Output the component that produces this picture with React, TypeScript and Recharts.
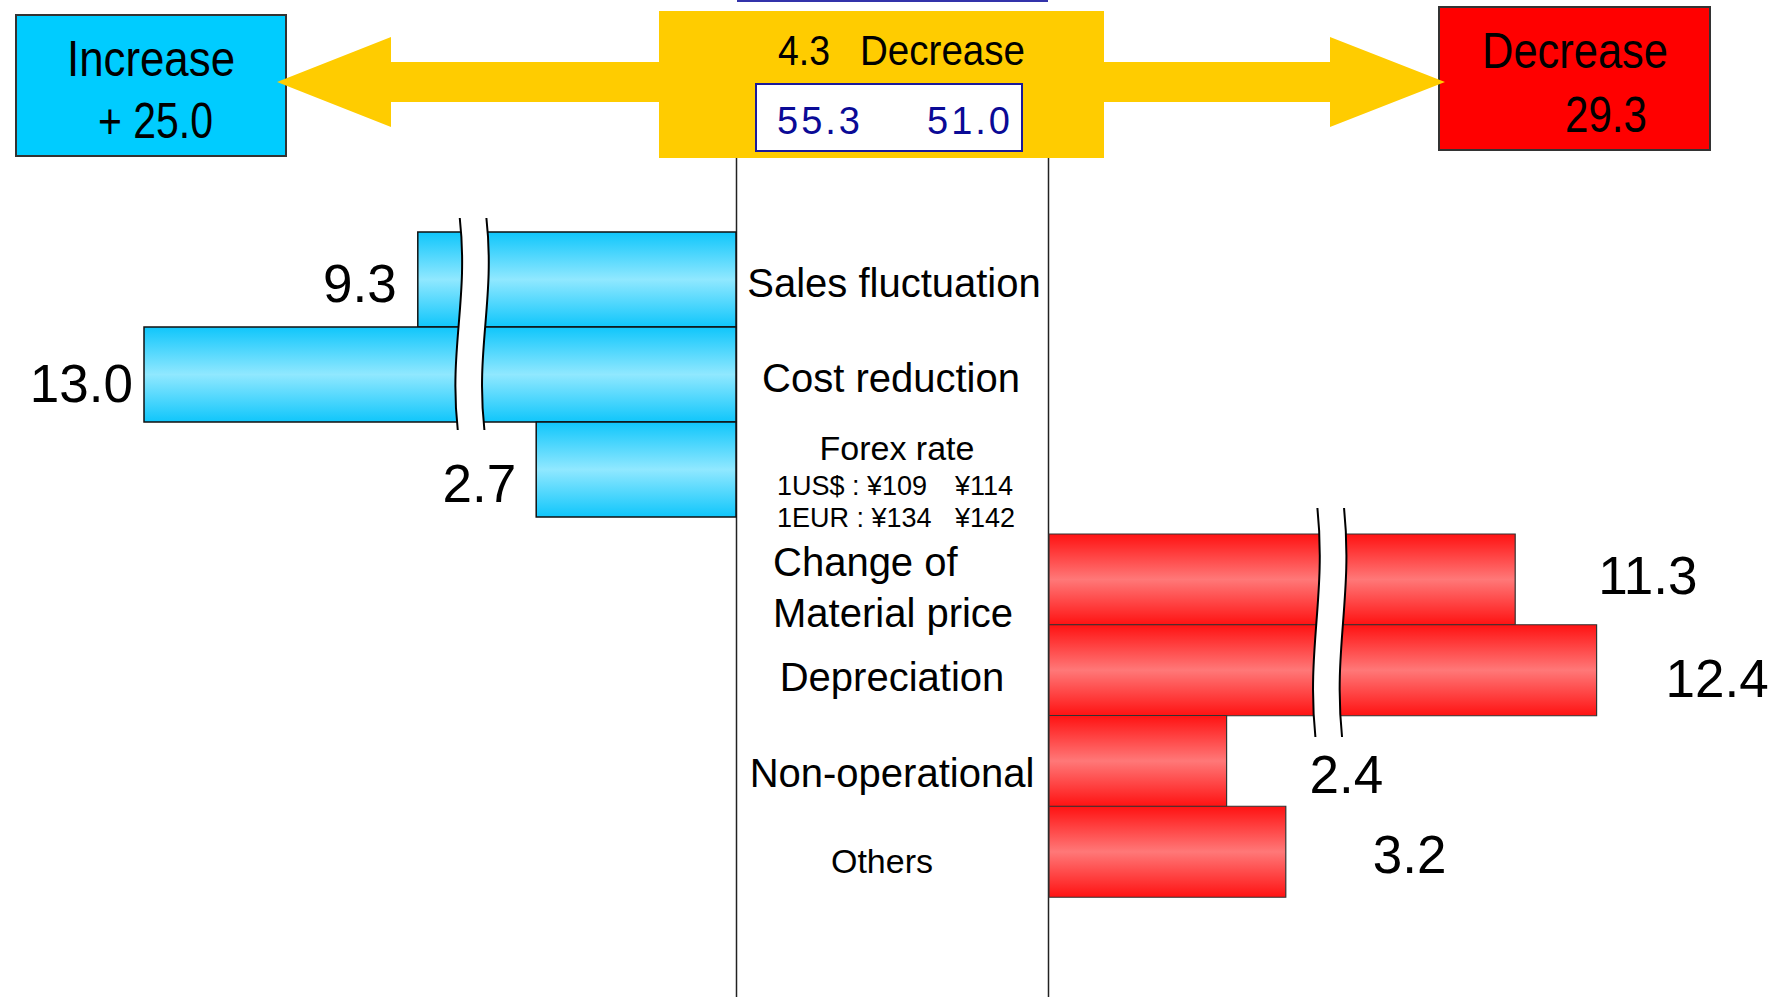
import { BarChart, Bar, XAxis, YAxis, LabelList, ReferenceArea } from 'recharts'

const increaseItems = ['Sales fluctuation', 'Cost reduction', 'Forex rate']
const increaseValues = [9.3, 13.0, 2.7]
const decreaseItems = ['Change of Material price', 'Depreciation', 'Non-operational', 'Others']
const decreaseValues = [11.3, 12.4, 2.4, 3.2]

const increaseTotal = 25.0
const decreaseTotal = 29.3
const netChange = 4.3
const profitPrev = 55.3
const profitCurr = 51.0
const usdRate = [109, 114]
const eurRate = [134, 142]

// long bars are drawn with a wavy cut that hides CUT units
const CUT_ABOVE = 8
const CUT = 5
const blueBreakAt = 3.58
const redBreakAt = 3.78

const W = 1778
const H = 997
const FONT = '"Liberation Sans", Arial, sans-serif'

const plotted = (v: number) => (v > CUT_ABOVE ? v - CUT : v)

const increaseData = increaseItems.map((name, i) => ({ name, value: increaseValues[i], bar: plotted(increaseValues[i]) }))
const decreaseData = decreaseItems.map((name, i) => ({ name, value: decreaseValues[i], bar: plotted(decreaseValues[i]) }))

const LEFT_LABEL_OFFSET = [[-21, 22], [-11, 27], [-20, 32]]
const RIGHT_LABEL_OFFSET = [[83, 14], [69, 27], [83, 32], [87, 21]]

function renderLeftLabel(props: any) {
  const { x, y, width, height, value, index } = props
  const left = Math.min(x, x + width)
  const [dx, dy] = LEFT_LABEL_OFFSET[index] || [-15, 25]
  return (
    <text x={left + dx} y={y + height / 2 + dy} textAnchor="end" fontSize={53} fontFamily={FONT} fill="#000">
      {Number(value).toFixed(1)}
    </text>
  )
}

function renderRightLabel(props: any) {
  const { x, y, width, height, value, index } = props
  const right = Math.max(x, x + width)
  const [dx, dy] = RIGHT_LABEL_OFFSET[index] || [80, 25]
  return (
    <text x={right + dx} y={y + height / 2 + dy} textAnchor="start" fontSize={53} fontFamily={FONT} fill="#000">
      {Number(value).toFixed(1)}
    </text>
  )
}

function LeftTick(props: any) {
  const { x, y, payload, index } = props
  const name = payload.value
  if (index === 2) {
    return (
      <g fontFamily={FONT} fill="#000">
        <text x={x + 161} y={y - 10} textAnchor="middle" fontSize={34}>{name}</text>
        <text x={x + 41} y={y + 25} fontSize={27}>{`1US$ : ¥${usdRate[0]}`}</text>
        <text x={x + 219} y={y + 25} fontSize={27}>{`¥${usdRate[1]}`}</text>
        <text x={x + 41} y={y + 57} fontSize={27}>{`1EUR : ¥${eurRate[0]}`}</text>
        <text x={x + 219} y={y + 57} fontSize={27}>{`¥${eurRate[1]}`}</text>
      </g>
    )
  }
  return (
    <text x={x + 158 - index * 3} y={y + 17} textAnchor="middle" fontSize={40} fontFamily={FONT} fill="#000">
      {name}
    </text>
  )
}

function RightTick(props: any) {
  const { x, y, payload, index } = props
  const name: string = payload.value
  if (index === 0) {
    const parts = name.split(' of ')
    return (
      <g fontFamily={FONT} fill="#000" fontSize={40}>
        <text x={x - 276} y={y - 3}>{parts[0] + ' of'}</text>
        <text x={x - 276} y={y + 48}>{parts[1]}</text>
      </g>
    )
  }
  const last = index === 3
  return (
    <text x={x - (last ? 167 : 157)} y={y + (index === 2 ? 26 : 21)} textAnchor="middle" fontSize={last ? 34 : 40} fontFamily={FONT} fill="#000">
      {name}
    </text>
  )
}

const breakShape = (top: number, len: number) => (props: any) => {
  const { x, y, width } = props
  const y0 = y + top
  const y1 = y0 + len
  const l = x
  const r = x + width
  const a = y0 + len * 0.38
  const b = y0 + len * 0.62
  return (
    <g>
      <path
        d={`M ${l + 2} ${y0} C ${l + 11} ${a}, ${l - 9} ${b}, ${l} ${y1} L ${r} ${y1} C ${r - 9} ${b}, ${r + 11} ${a}, ${r + 2} ${y0} Z`}
        fill="#fff"
        stroke="none"
      />
      <path d={`M ${l + 2} ${y0} C ${l + 11} ${a}, ${l - 9} ${b}, ${l} ${y1}`} fill="none" stroke="#000" strokeWidth={2} />
      <path d={`M ${r + 2} ${y0} C ${r + 11} ${a}, ${r - 9} ${b}, ${r} ${y1}`} fill="none" stroke="#000" strokeWidth={2} />
    </g>
  )
}

function Decorations() {
  return (
    <svg width={W} height={H} style={{ position: 'absolute', left: 0, top: 0 }} fontFamily={FONT}>
      <line x1={737} y1={1} x2={1048} y2={1} stroke="#3333aa" strokeWidth={2} />
      <line x1={736.5} y1={158} x2={736.5} y2={H} stroke="#222" strokeWidth={1.5} />
      <line x1={1048.5} y1={158} x2={1048.5} y2={H} stroke="#222" strokeWidth={1.5} />

      <rect x={16} y={15} width={270} height={141} fill="#00ccff" stroke="#333" strokeWidth={2} />
      <text x={67} y={76} fontSize={50} textLength={168} lengthAdjust="spacingAndGlyphs">Increase</text>
      <text x={98} y={138} fontSize={50} textLength={115} lengthAdjust="spacingAndGlyphs">{`+ ${increaseTotal.toFixed(1)}`}</text>

      <rect x={1439} y={7} width={271} height={143} fill="#ff0000" stroke="#333" strokeWidth={2} />
      <text x={1482} y={68} fontSize={50} textLength={186} lengthAdjust="spacingAndGlyphs">Decrease</text>
      <text x={1565} y={132} fontSize={50} textLength={82} lengthAdjust="spacingAndGlyphs">{decreaseTotal.toFixed(1)}</text>

      <polygon
        points="277,82 391,37 391,62 1330,62 1330,37 1445,82 1330,127 1330,102 391,102 391,127"
        fill="#ffcc00"
      />
      <rect x={659} y={11} width={445} height={147} fill="#ffcc00" />
      <text x={778} y={65} fontSize={42} textLength={52} lengthAdjust="spacingAndGlyphs">{netChange.toFixed(1)}</text>
      <text x={860} y={65} fontSize={42} textLength={165} lengthAdjust="spacingAndGlyphs">Decrease</text>
      <rect x={756} y={84} width={266} height={67} fill="#fff" stroke="#1a1a9a" strokeWidth={2} />
      <text x={777} y={134} fontSize={38} fill="#0a0a96" letterSpacing={3}>{profitPrev.toFixed(1)}</text>
      <text x={927} y={134} fontSize={38} fill="#0a0a96" letterSpacing={3}>{profitCurr.toFixed(1)}</text>
    </svg>
  )
}

export default function App() {
  return (
    <div style={{ position: 'absolute', left: 0, top: 0, width: W, height: H, background: '#fff', overflow: 'hidden' }}>
      <Decorations />

      <div style={{ position: 'absolute', left: 0, top: 0 }}>
        <BarChart
          width={W}
          height={H}
          data={increaseData}
          layout="vertical"
          margin={{ top: 232, bottom: H - 517, left: 144, right: W - 1049 }}
          barCategoryGap={0}
        >
          <defs>
            <linearGradient id="blueGrad" x1="0" y1="0" x2="0" y2="1">
              <stop offset="0%" stopColor="#10c6fb" />
              <stop offset="50%" stopColor="#90e8ff" />
              <stop offset="100%" stopColor="#10c6fb" />
            </linearGradient>
          </defs>
          <XAxis type="number" domain={[0, 8]} reversed hide />
          <YAxis
            type="category"
            dataKey="name"
            orientation="right"
            width={313}
            axisLine={false}
            tickLine={false}
            tickSize={0}
            tickMargin={0}
            interval={0}
            tick={<LeftTick />}
          />
          <Bar dataKey="bar" fill="url(#blueGrad)" stroke="#111" strokeWidth={1.5} isAnimationActive={false}>
            <LabelList dataKey="value" content={renderLeftLabel} />
          </Bar>
          <ReferenceArea
            x1={blueBreakAt - 0.18}
            x2={blueBreakAt + 0.18}
            ifOverflow="visible"
            zIndex={1500}
            shape={breakShape(-14, 212)}
          />
        </BarChart>
      </div>

      <div style={{ position: 'absolute', left: 0, top: 0 }}>
        <BarChart
          width={W}
          height={H}
          data={decreaseData}
          layout="vertical"
          margin={{ top: 534, bottom: H - 897, left: 736, right: W - 1641 }}
          barCategoryGap={0}
        >
          <defs>
            <linearGradient id="redGrad" x1="0" y1="0" x2="0" y2="1">
              <stop offset="0%" stopColor="#ff1212" />
              <stop offset="50%" stopColor="#ff7878" />
              <stop offset="100%" stopColor="#ff1212" />
            </linearGradient>
          </defs>
          <XAxis type="number" domain={[0, 8]} hide />
          <YAxis
            type="category"
            dataKey="name"
            orientation="left"
            width={313}
            axisLine={false}
            tickLine={false}
            tickSize={0}
            tickMargin={0}
            interval={0}
            tick={<RightTick />}
          />
          <Bar dataKey="bar" fill="url(#redGrad)" stroke="#333" strokeWidth={1.2} isAnimationActive={false}>
            <LabelList dataKey="value" content={renderRightLabel} />
          </Bar>
          <ReferenceArea
            x1={redBreakAt - 0.18}
            x2={redBreakAt + 0.18}
            ifOverflow="visible"
            zIndex={1500}
            shape={breakShape(-26, 229)}
          />
        </BarChart>
      </div>
    </div>
  )
}
